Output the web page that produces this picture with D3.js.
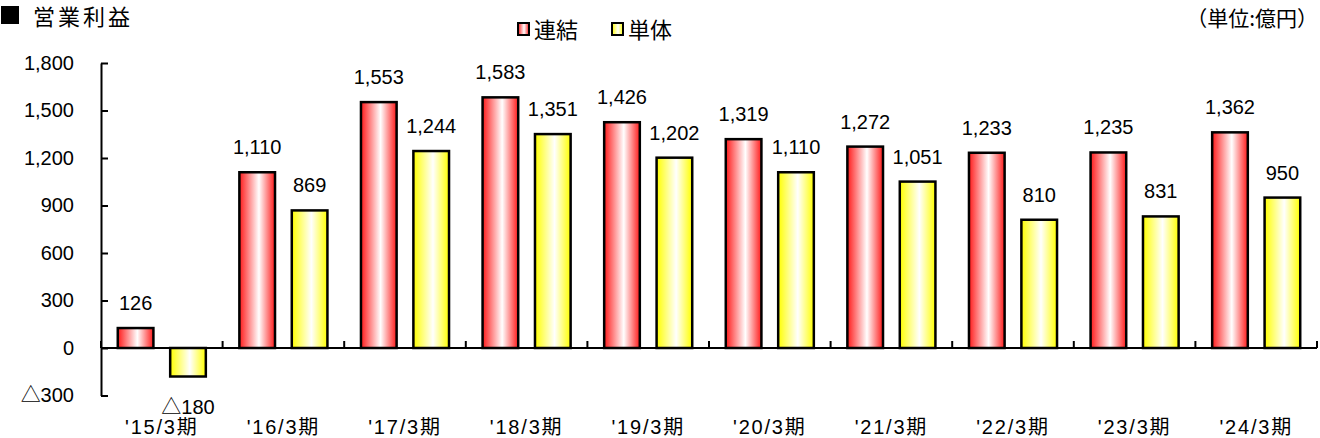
<!DOCTYPE html>
<html>
<head>
<meta charset="utf-8">
<script src="https://cdn.jsdelivr.net/npm/d3@7"></script>
<style>
  body { margin: 0; background: #fff; }
  text { font-family: "Liberation Sans", "Noto Sans CJK JP", sans-serif; fill: #000; }
  .jp { font-family: "Noto Sans CJK JP", sans-serif; }
</style>
</head>
<body>
<script>
// data
var categories = ["'15/3期", "'16/3期", "'17/3期", "'18/3期", "'19/3期", "'20/3期", "'21/3期", "'22/3期", "'23/3期", "'24/3期"];
var consolidated = [126, 1110, 1553, 1583, 1426, 1319, 1272, 1233, 1235, 1362];
var standalone = [-180, 869, 1244, 1351, 1202, 1110, 1051, 810, 831, 950];
var seriesNames = ["連結", "単体"];
var yTicks = [-300, 0, 300, 600, 900, 1200, 1500, 1800];

var width = 1320, height = 438;

var svg = d3.select("body").append("svg")
    .attr("width", width)
    .attr("height", height);

// gradients: colour at edges, white near the middle
var defs = svg.append("defs");
function grad(id, col) {
  var g = defs.append("linearGradient").attr("id", id)
      .attr("x1", "0%").attr("x2", "100%").attr("y1", "0%").attr("y2", "0%");
  g.append("stop").attr("offset", "0%").attr("stop-color", col);
  g.append("stop").attr("offset", "55%").attr("stop-color", "#ffffff");
  g.append("stop").attr("offset", "100%").attr("stop-color", col);
}
grad("gRed", "#ff1a1a");
grad("gYel", "#ffff00");
var fills = ["url(#gRed)", "url(#gYel)"];

// scales
var x0 = d3.scaleBand().domain(categories).range([101, 1317]).padding(0);
var x1 = d3.scaleBand().domain([0, 1]).range([0, x0.bandwidth()])
    .paddingInner(0.32).paddingOuter(0.32);
var y = d3.scaleLinear().domain([-300, 1800]).range([395.5, 63]);

var fmt = function(v) { return v < 0 ? "△" + d3.format(",")(-v) : d3.format(",")(v); };

// y axis
var yAxis = d3.axisLeft(y).tickValues(yTicks).tickSizeInner(-7).tickSizeOuter(0)
    .tickPadding(27).tickFormat(fmt);
var ya = svg.append("g").attr("transform", "translate(101,0)").call(yAxis);
ya.select(".domain").attr("stroke", "#000").attr("stroke-width", 2);
ya.selectAll(".tick line").attr("stroke", "#000").attr("stroke-width", 2);
ya.selectAll(".tick text").attr("font-size", 20).attr("font-family", null);

// bars
var rows = categories.map(function(c, i) { return {cat: c, vals: [consolidated[i], standalone[i]]}; });
var grp = svg.selectAll(".cat").data(rows).enter().append("g")
    .attr("class", "cat")
    .attr("transform", function(d) { return "translate(" + x0(d.cat) + ",0)"; });

var bars = grp.selectAll("rect").data(function(d) { return d.vals; }).enter();
bars.append("rect")
    .attr("x", function(d, i) { return x1(i); })
    .attr("width", x1.bandwidth())
    .attr("y", function(d) { return y(Math.max(0, d)); })
    .attr("height", function(d) { return Math.abs(y(d) - y(0)); })
    .attr("fill", function(d, i) { return fills[i]; })
    .attr("stroke", "#000")
    .attr("stroke-width", 2.5);

bars.append("text")
    .attr("x", function(d, i) { return x1(i) + x1.bandwidth() / 2; })
    .attr("y", function(d) { return d < 0 ? y(d) + 37 : y(d) - 18; })
    .attr("text-anchor", "middle")
    .attr("font-size", 20)
    .text(fmt);

// x axis line and category ticks
svg.append("line")
    .attr("x1", 101).attr("x2", 1317)
    .attr("y1", y(0)).attr("y2", y(0))
    .attr("stroke", "#000").attr("stroke-width", 2);
svg.selectAll(".ctick").data(d3.range(categories.length + 1)).enter().append("line")
    .attr("x1", function(i) { return 101 + i * x0.step(); })
    .attr("x2", function(i) { return 101 + i * x0.step(); })
    .attr("y1", y(0)).attr("y2", y(0) - 7)
    .attr("stroke", "#000").attr("stroke-width", 2);

svg.selectAll(".clab").data(categories).enter().append("text")
    .attr("x", function(d) { return x0(d) + x0.bandwidth() / 2; })
    .attr("y", 434)
    .attr("text-anchor", "middle")
    .attr("font-size", 20)
    .attr("letter-spacing", 1.8)
    .text(function(d) { return d; });

// title
svg.append("rect").attr("x", 1).attr("y", 6).attr("width", 18).attr("height", 18).attr("fill", "#000");
svg.append("text").attr("class", "jp").attr("x", 33).attr("y", 25)
    .attr("font-size", 22).attr("letter-spacing", 3).text("営業利益");

// unit
svg.append("text").attr("class", "jp").attr("x", 1318).attr("y", 26)
    .attr("text-anchor", "end").attr("font-size", 21).text("（単位:億円）");

// legend
var legX = [518, 612];
var leg = svg.selectAll(".leg").data(seriesNames).enter().append("g")
    .attr("transform", function(d, i) { return "translate(" + legX[i] + ",0)"; });
leg.append("rect").attr("x", 0).attr("y", 23).attr("width", 11).attr("height", 12)
    .attr("fill", function(d, i) { return fills[i]; })
    .attr("stroke", "#000").attr("stroke-width", 2);
leg.append("text").attr("class", "jp").attr("x", 16).attr("y", 38)
    .attr("font-size", 22).text(function(d) { return d; });
</script>
</body>
</html>
